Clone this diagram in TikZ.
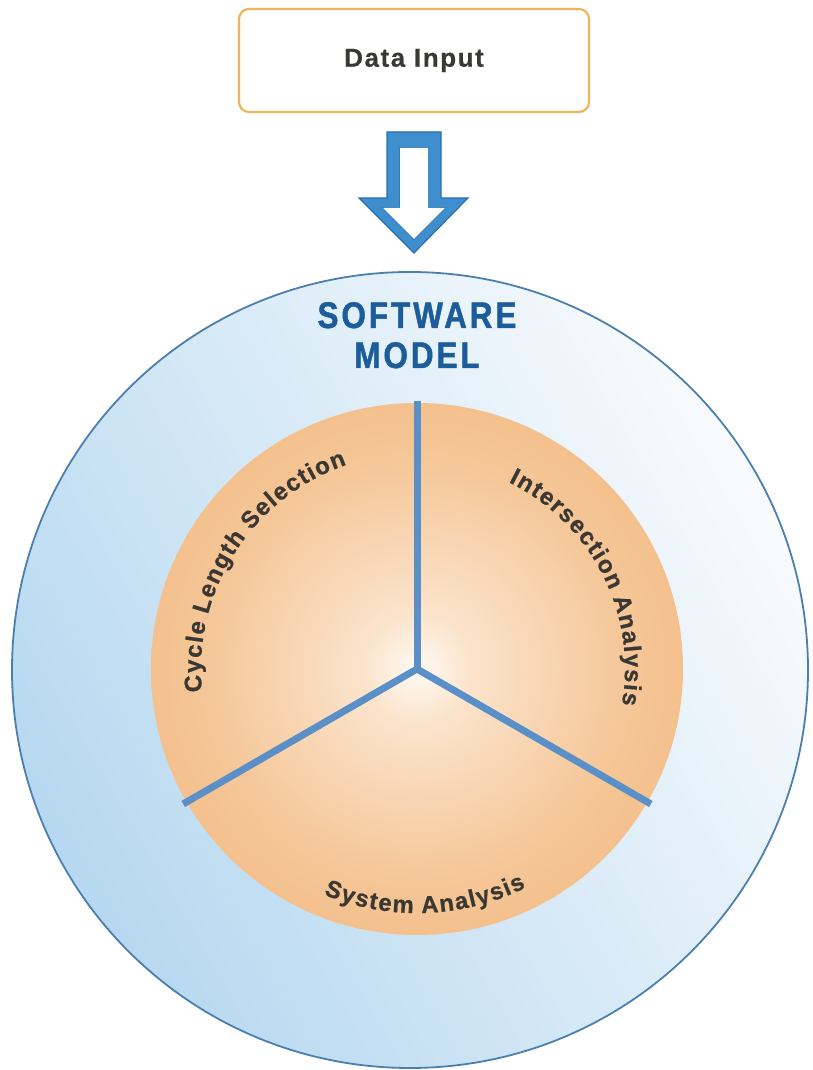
\documentclass[tikz,border=0pt]{standalone}
\usepackage{fontspec}
\setmainfont{Liberation Sans}
\newfontfamily\condfont[FakeStretch=0.85,LetterSpace=8,FakeBold=1.2]{Liberation Sans Bold}
\newfontfamily\boxfont[LetterSpace=6,FakeBold=0.4]{Liberation Sans Bold}
\newfontfamily\lblfont[FakeBold=0.7]{Liberation Sans Bold}
\newcommand\lsp[1]{#1\kern1.4pt}
\usetikzlibrary{decorations.text,calc}
\definecolor{skyD}{HTML}{B6D8F0}
\definecolor{skyL}{HTML}{F8FBFD}
\definecolor{ringC}{HTML}{4D7FAE}
\definecolor{orC}{HTML}{FFFAF4}
\definecolor{orA}{HTML}{FBE4CC}
\definecolor{orM}{HTML}{F5C697}
\definecolor{orE}{HTML}{F1B478}
\definecolor{orF}{HTML}{EEA65C}
\definecolor{orR}{HTML}{E99B4A}
\definecolor{spokeC}{HTML}{5A8FC8}
\definecolor{boxC}{HTML}{F0B35E}
\definecolor{txtC}{HTML}{3B3733}
\definecolor{titleC}{HTML}{1C5C9B}
\definecolor{arrC}{HTML}{3F8ECD}
\definecolor{arrE}{HTML}{2B6FAE}
\pgfdeclareradialshading{orb}{\pgfpointorigin}{color(0bp)=(orC); color(5bp)=(orA); color(20bp)=(orM); color(37bp)=(orE); color(46bp)=(orF); color(50bp)=(orR)}
\tikzset{
  inputbox/.style={draw=boxC, line width=2.2pt, rounded corners=10pt, fill=white,
    minimum width=350pt, minimum height=103pt, inner sep=0pt,
    font=\boxfont\fontsize{26}{30}\selectfont, text=txtC},
  modelring/.style={circle, inner sep=0pt, minimum size=796pt, draw=ringC, line width=1.8pt,
    shading=axis, top color=skyL, bottom color=skyD, shading angle=-60},
  corering/.style={circle, inner sep=0pt, outer sep=0pt, minimum size=532pt, shading=orb},
  spoke/.style={draw=spokeC, line width=7pt},
  titletext/.style={font=\condfont\fontsize{37}{40}\selectfont, text=titleC, inner sep=0pt},
  arclabel/.style={decorate, decoration={text along path, text align=center, text color=txtC}}
}
\begin{document}
\begin{tikzpicture}[x=1pt,y=1pt]
\useasboundingbox (0,0) rectangle (812,1070);
% input box
\node[inputbox] (input) at (414,1009.5) {Data Input};
% model ring
\node[modelring] (model) at (410,400) {};
% hollow block arrow
\coordinate (tip) at (414,817);
\path[fill=arrC, even odd rule, draw=arrE, line width=1.2pt, line join=miter]
  (387,938) -- (441,938) -- (441,872) -- (468,872) -- (tip) -- (359,872) -- (387,872) -- cycle
  (400,922) -- (428,922) -- (428,862) -- (445,862) -- (414,831) -- (383,862) -- (400,862) -- cycle;
\path[fill=white] (400,922) -- (428,922) -- (428,862) -- (445,862) -- (414,831) -- (383,862) -- (400,862) -- cycle;
% title
\node[titletext, anchor=base] (t1) at (417,742) {SOFTWARE};
\node[titletext, anchor=base] (t2) at (417,702) {MODEL};
% core
\node[corering] (core) at (417,401) {};
\draw[spoke] (core.center) -- ($(core.center)+(90:268)$);
\draw[spoke] (core.center) -- ($(core.center)+(210:270)$);
\draw[spoke] (core.center) -- ($(core.center)+(330:270)$);
% curved labels
\path[arclabel, decoration={text={|\lblfont\fontsize{24}{28}\selectfont|{\lsp C}{\lsp y}{\lsp c}{\lsp l}{\lsp e} {\lsp L}{\lsp e}{\lsp n}{\lsp g}{\lsp t}{\lsp h} {\lsp S}{\lsp e}{\lsp l}{\lsp e}{\lsp c}{\lsp t}{\lsp i}{\lsp o}{n}}}]
  (core.center) ++(207.5:216) arc[start angle=207.5, end angle=87.5, radius=216];
\path[arclabel, decoration={text={|\lblfont\fontsize{24}{28}\selectfont|{\lsp I}{\lsp n}{\lsp t}{\lsp e}{\lsp r}{\lsp s}{\lsp e}{\lsp c}{\lsp t}{\lsp i}{\lsp o}{\lsp n} {\lsp A}{\lsp n}{\lsp a}{\lsp l}{\lsp y}{\lsp s}{\lsp i}{s}}}]
  (core.center) ++(87:208) arc[start angle=87, end angle=-33, radius=208];
\path[arclabel, decoration={text={|\lblfont\fontsize{24}{28}\selectfont|{\lsp S}{\lsp y}{\lsp s}{\lsp t}{\lsp e}{\lsp m} {\lsp A}{\lsp n}{\lsp a}{\lsp l}{\lsp y}{\lsp s}{\lsp i}{s}}}]
  (core.center) ++(212:244) arc[start angle=212, end angle=332, radius=244];
\end{tikzpicture}
\end{document}
